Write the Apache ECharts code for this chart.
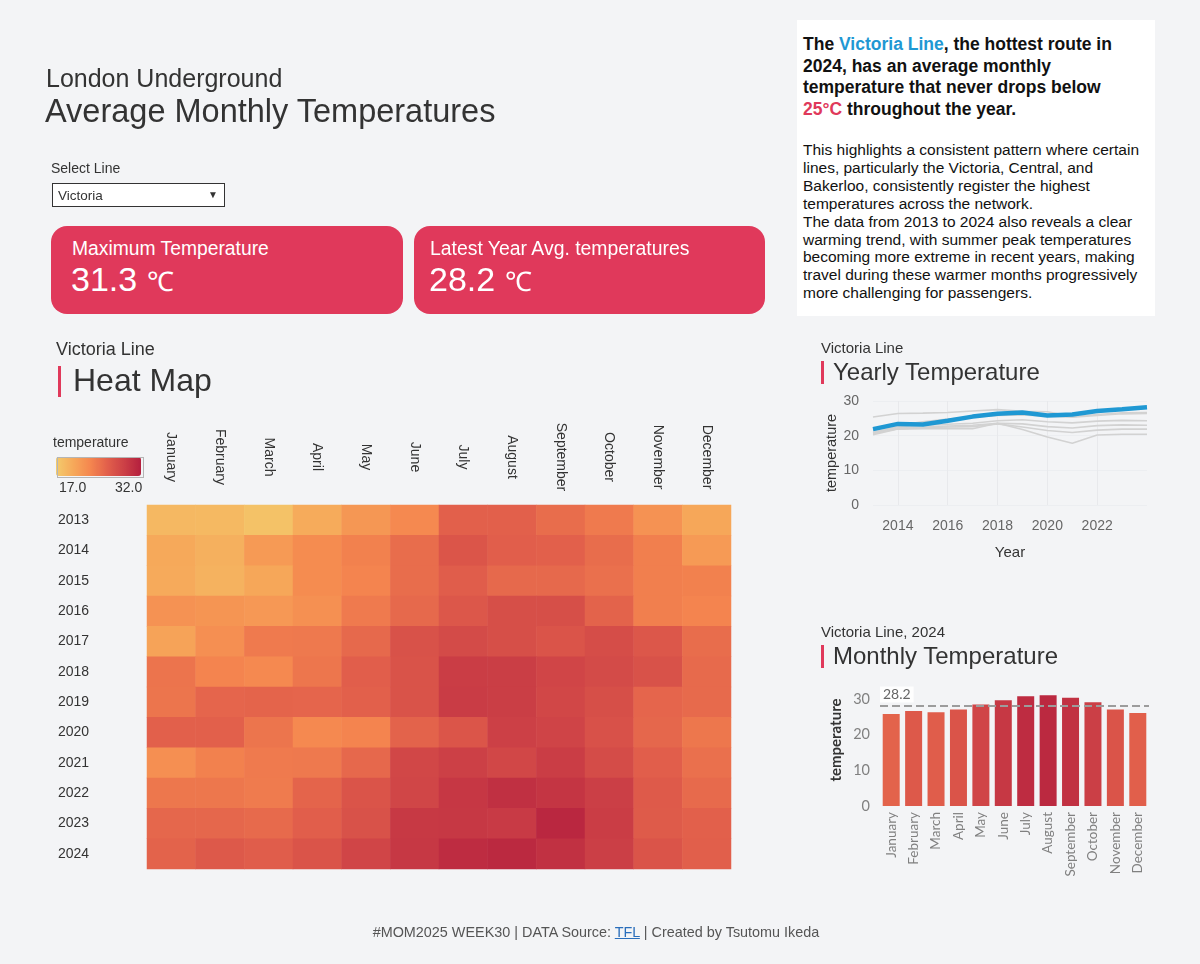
<!DOCTYPE html>
<html>
<head>
<meta charset="utf-8">
<script src="https://cdn.jsdelivr.net/npm/echarts@6/dist/echarts.min.js"></script>
<style>
  html, body { margin:0; padding:0; background:#f3f4f6; }
  body { width:1200px; height:964px; position:relative; overflow:hidden; font-family:"Liberation Sans", Arial, sans-serif; color:#333; }
  #chart { position:absolute; left:0; top:0; width:1200px; height:964px; }
  .t { position:absolute; white-space:nowrap; line-height:1; }
  .card { position:absolute; background:#e0395b; border-radius:16px; color:#fff; }
  .bar { position:absolute; width:3px; background:#e0395b; }
  #note { position:absolute; left:797px; top:20px; width:358px; height:296px; background:#fff; }
  #cbBorder { position:absolute; left:57px; top:457px; width:85px; height:19px; border:1px solid #b5b5b5; pointer-events:none; }
</style>
</head>
<body>
<div id="chart"></div>
<div id="cbBorder"></div>

<div class="t" style="left:46px;top:66px;font-size:25px;color:#333;">London Underground</div>
<div class="t" style="left:45px;top:95px;font-size:32.5px;color:#333;">Average Monthly Temperatures</div>

<div class="t" style="left:51px;top:161px;font-size:14px;color:#333;">Select Line</div>
<div style="position:absolute;left:52px;top:183px;width:171px;height:22px;background:#fff;border:1px solid #333;">
  <div class="t" style="left:5px;top:5px;font-size:13.5px;color:#333;">Victoria</div>
  <div class="t" style="left:155px;top:6px;font-size:10px;color:#333;">&#9660;</div>
</div>

<div class="card" style="left:51px;top:226px;width:352px;height:88px;">
  <div class="t" style="left:21px;top:13px;font-size:19.3px;">Maximum Temperature</div>
  <div class="t" style="left:20px;top:36px;font-size:34px;">31.3 <span style="font-size:27px;">&#8451;</span></div>
</div>
<div class="card" style="left:414px;top:226px;width:351px;height:88px;">
  <div class="t" style="left:16px;top:13px;font-size:19.4px;">Latest Year Avg. temperatures</div>
  <div class="t" style="left:15px;top:36px;font-size:34px;">28.2 <span style="font-size:27px;">&#8451;</span></div>
</div>

<div id="note">
  <div style="position:absolute;left:6px;top:14px;width:325px;font-size:17.5px;font-weight:bold;line-height:21.5px;color:#111;">
    The <span style="color:#1f98d3;">Victoria Line</span>, the hottest route in 2024, has an average monthly temperature that never drops below <span style="color:#e0395b;">25°C</span> throughout the year.
  </div>
  <div style="position:absolute;left:6px;top:121px;width:346px;font-size:15.5px;line-height:17.9px;color:#111;">
    This highlights a consistent pattern where certain lines, particularly the Victoria, Central, and Bakerloo, consistently register the highest temperatures across the network.<br>The data from 2013 to 2024 also reveals a clear warming trend, with summer peak temperatures becoming more extreme in recent years, making travel during these warmer months progressively more challenging for passengers.
  </div>
</div>

<div class="t" style="left:56px;top:340px;font-size:18px;color:#333;">Victoria Line</div>
<div class="bar" style="left:58px;top:366px;height:31px;"></div>
<div class="t" style="left:73px;top:364px;font-size:32px;color:#333;">Heat Map</div>
<div class="t" style="left:53px;top:435px;font-size:14px;color:#333;">temperature</div>
<div class="t" style="left:59px;top:480px;font-size:14px;color:#333;">17.0</div>
<div class="t" style="left:115px;top:480px;font-size:14px;color:#333;">32.0</div>

<div class="t" style="left:821px;top:340px;font-size:15px;color:#333;">Victoria Line</div>
<div class="bar" style="left:821px;top:361px;height:23px;"></div>
<div class="t" style="left:833px;top:360px;font-size:24px;color:#333;">Yearly Temperature</div>

<div class="t" style="left:821px;top:624px;font-size:15px;color:#333;">Victoria Line, 2024</div>
<div class="bar" style="left:821px;top:645px;height:23px;"></div>
<div class="t" style="left:833px;top:644px;font-size:24px;color:#333;">Monthly Temperature</div>

<div class="t" style="left:0;width:1192px;text-align:center;top:925px;font-size:14.4px;color:#555;">#MOM2025 WEEK30 | DATA Source: <span style="color:#2a6ebb;text-decoration:underline;">TFL</span> | Created by Tsutomu Ikeda</div>

<script>
// ---- Data ----
const months = ['January','February','March','April','May','June','July','August','September','October','November','December'];
const years = ['2013','2014','2015','2016','2017','2018','2019','2020','2021','2022','2023','2024'];
const yearTicks = ['2014','2016','2018','2020','2022'];

// Victoria line monthly averages (°C) per year
const t2013 = [18.7,18.6,17.8,19.8,21.6,22.8,26.0,26.0,25.0,24.0,22.0,20.2];
const t2014 = [20.0,19.4,21.3,22.6,23.5,25.0,27.0,26.2,26.0,25.0,23.6,21.3];
const t2015 = [19.9,19.2,20.2,22.6,23.2,25.0,26.3,25.3,25.3,24.8,23.6,23.5];
const t2016 = [22.0,21.8,21.5,22.2,24.0,25.3,26.8,27.6,27.6,25.8,23.6,23.2];
const t2017 = [20.5,22.3,24.0,24.1,25.3,27.3,28.0,27.6,27.1,27.8,26.8,25.0];
const t2018 = [24.5,23.2,22.8,24.3,26.2,27.2,29.3,29.2,28.5,28.0,27.3,25.2];
const t2019 = [24.4,25.6,25.7,25.6,26.0,27.2,29.4,29.2,28.3,27.6,25.6,25.2];
const t2020 = [26.0,26.0,24.4,22.8,23.2,25.8,27.0,29.0,28.6,27.4,25.5,24.2];
const t2021 = [22.3,23.5,24.0,24.1,25.4,28.3,29.0,28.3,29.3,27.9,26.2,24.8];
const t2022 = [24.2,24.2,23.9,25.7,27.1,28.4,29.8,30.5,30.0,29.1,26.6,25.2];
const t2023 = [25.5,25.5,25.2,26.2,27.3,29.6,29.7,29.5,31.3,29.3,26.5,26.0];
const t2024 = [25.8,26.7,26.3,27.1,28.5,29.7,30.8,31.1,30.4,29.1,27.1,26.1];
const yearRows = [t2013,t2014,t2015,t2016,t2017,t2018,t2019,t2020,t2021,t2022,t2023,t2024];

// Yearly average temperatures (°C), 2013-2024
const victoriaYearly = [21.9,23.4,23.2,24.3,25.5,26.3,26.7,25.8,26.1,27.1,27.6,28.2];
const bakerlooYearly = [25.4,26.4,26.5,26.7,27.1,27.5,27.0,26.9,25.5,26.1,26.6,26.7];
const centralYearly  = [21.5,23.0,24.0,24.8,25.3,25.8,26.0,25.6,25.3,25.8,26.3,26.4];
const northernYearly = [21.0,22.6,23.0,23.3,23.6,24.3,24.6,24.0,23.7,24.2,24.4,24.3];
const jubileeYearly  = [20.8,22.3,22.5,22.8,23.0,23.6,23.4,22.6,22.2,22.9,23.1,23.0];
const piccadillyYearly = [20.6,22.0,22.3,22.5,22.6,23.4,22.5,21.5,20.9,21.6,21.9,21.9];
const wcYearly       = [20.3,21.9,22.0,22.1,22.0,23.6,21.8,19.6,17.8,20.2,20.4,20.4];
const otherLines = [
  ['Bakerloo', bakerlooYearly], ['Central', centralYearly], ['Northern', northernYearly],
  ['Jubilee', jubileeYearly], ['Piccadilly', piccadillyYearly], ['Waterloo & City', wcYearly]
];
const latestAvg = 28.2;

const heatData = [];
yearRows.forEach((row, yi) => row.forEach((v, mi) => heatData.push([mi, yi, v])));

const FONT = '"Liberation Sans", Arial, sans-serif';
const chart = echarts.init(document.getElementById('chart'), null, {renderer:'canvas'});

const series = [{
  type:'heatmap', xAxisIndex:0, yAxisIndex:0, data: heatData,
  itemStyle:{ borderWidth:0 }, emphasis:{ disabled:true }
}];
otherLines.forEach(([n, d]) => series.push({
  name:n, type:'line', xAxisIndex:1, yAxisIndex:1, data:d, showSymbol:false, symbol:'none',
  lineStyle:{ color:'#d2d2d2', width:1.6 }, z:2, silent:true
}));
series.push({
  name:'Victoria', type:'line', xAxisIndex:1, yAxisIndex:1, data:victoriaYearly, showSymbol:false, symbol:'none',
  lineStyle:{ color:'#1f98d3', width:4.5 }, z:5, silent:true
});
series.push({
  type:'bar', xAxisIndex:2, yAxisIndex:2, data:t2024, barWidth:17,
  markLine:{
    silent:true, symbol:'none',
    lineStyle:{ type:'dashed', color:'#9c9c9c', width:2 },
    label:{ position:'insideStartTop', formatter: String(latestAvg), color:'#666', fontSize:14, fontFamily:'Lato, sans-serif',
            backgroundColor:'rgba(255,255,255,0.85)', padding:[1,3], distance:[0,3] },
    data:[{ yAxis: latestAvg }]
  }
});

chart.setOption({
  animation:false,
  textStyle:{ fontFamily: FONT },
  visualMap:{
    type:'continuous', min:17, max:32, seriesIndex:[0, series.length-1],
    orient:'horizontal', left:56, top:457, itemWidth:19, itemHeight:85, padding:0,
    calculable:false, hoverLink:false, show:true,
    inRange:{ color:['#f3cb6c','#f6a95a','#f5874f','#e2604b','#cc4046','#b41f3e'] }
  },
  grid:[
    { left:147, top:505, width:584, height:364 },
    { left:873, top:401, width:274, height:104 },
    { left:880, top:692, width:269, height:114 }
  ],
  xAxis:[
    { type:'category', gridIndex:0, data:months, position:'top',
      axisLine:{show:false}, axisTick:{show:false}, splitLine:{show:false},
      axisLabel:{ rotate:90, margin:48, align:'center', verticalAlign:'middle', fontSize:14, color:'#333', fontFamily:FONT } },
    { type:'category', gridIndex:1, data:years, boundaryGap:false,
      axisLine:{show:false}, axisTick:{show:false},
      axisLabel:{ interval:(i, v) => yearTicks.includes(v), fontSize:14, color:'#666', margin:14 },
      splitLine:{ show:true, interval:(i, v) => yearTicks.includes(v), lineStyle:{ color:'#e8e9ec', width:1 } },
      name:'Year', nameLocation:'middle', nameGap:40, nameTextStyle:{ fontSize:15, color:'#333' } },
    { type:'category', gridIndex:2, data:months,
      axisLine:{show:false}, axisTick:{show:false},
      axisLabel:{ rotate:90, margin:6, fontSize:13.5, color:'#808080', fontFamily:'Lato, sans-serif' } }
  ],
  yAxis:[
    { type:'category', gridIndex:0, data:years, inverse:true,
      axisLine:{show:false}, axisTick:{show:false}, splitLine:{show:false},
      axisLabel:{ align:'left', margin:89, fontSize:14, color:'#333' } },
    { type:'value', gridIndex:1, min:0, max:30, interval:10,
      axisLine:{show:false}, axisTick:{show:false},
      splitLine:{ show:true, lineStyle:{ color:'#eceef1' } },
      axisLabel:{ fontSize:14, color:'#666', margin:14 },
      name:'temperature', nameLocation:'middle', nameGap:30, nameRotate:90, nameTextStyle:{ fontSize:14.5, color:'#333' } },
    { type:'value', gridIndex:2, min:0, max:32, interval:10,
      axisLine:{show:false}, axisTick:{show:false}, splitLine:{show:false},
      axisLabel:{ fontSize:14.5, color:'#808080', margin:10, fontFamily:'Lato, sans-serif', showMaxLabel:false,
                  formatter:(v) => (v % 10 === 0 ? String(v) : '') },
      name:'temperature', nameLocation:'middle', nameGap:36, nameRotate:90,
      nameTextStyle:{ fontSize:15, color:'#333', fontFamily:'Lato, sans-serif', fontWeight:'bold', padding:[0,0,0,18] } }
  ],
  series: series
});
</script>
</body>
</html>
